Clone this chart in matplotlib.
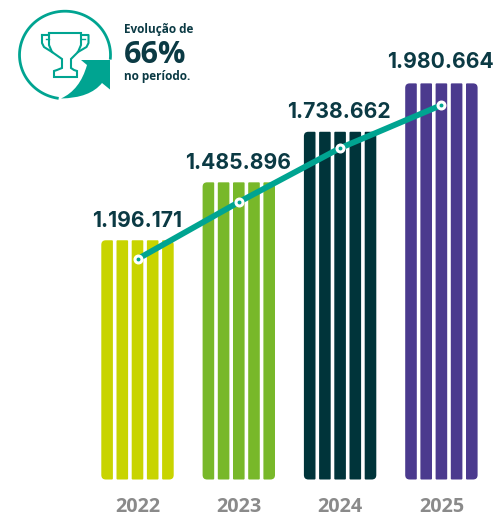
import matplotlib
matplotlib.use('Agg')
import matplotlib.pyplot as plt
import numpy as np
from matplotlib.path import Path
from matplotlib.patches import PathPatch

years = ['2022', '2023', '2024', '2025']
values = [1196171, 1485896, 1738662, 1980664]
value_labels = ['1.196.171', '1.485.896', '1.738.662', '1.980.664']
line_levels = [1102000, 1387000, 1657000, 1872000]
colors = ['#C8D400', '#78B82A', '#00343A', '#4B3A8E']
TEAL = '#00A491'
DARK = '#0B3A44'
GREY = '#8A8A8A'
FONT = 'Open Sans'
NUMFONT = 'Inter'

W, H = 493, 517
PX = 2.0e-4          # pixels per value unit
X0, DX = 137.5, 101.3
Y0 = 479.5

fig = plt.figure(figsize=(W / 100, H / 100), dpi=100)
ax = fig.add_axes([0, 0, 1, 1])
ax.set_xlim((0 - X0) / DX, (W - X0) / DX)
ax.set_ylim(-(H - Y0) / PX, Y0 / PX)
ax.axis('off')

sx = 1 / DX
sy = 1 / PX


def stripe(xc, w, top, r):
    """Stripe from 0 to top; r = (tl, tr, br, bl) corner radii in pixels."""
    l, rr = xc - w / 2, xc + w / 2
    tl, tr, br, bl = r
    v = [(l + tl * sx, top), (rr - tr * sx, top), (rr, top), (rr, top - tr * sy),
         (rr, br * sy), (rr, 0), (rr - br * sx, 0), (l + bl * sx, 0), (l, 0),
         (l, bl * sy), (l, top - tl * sy), (l, top), (l + tl * sx, top), (l + tl * sx, top)]
    c = [Path.MOVETO, Path.LINETO, Path.CURVE3, Path.CURVE3, Path.LINETO, Path.CURVE3,
         Path.CURVE3, Path.LINETO, Path.CURVE3, Path.CURVE3, Path.LINETO, Path.CURVE3,
         Path.CURVE3, Path.CLOSEPOLY]
    return Path(v, c)


for i, (val, col) in enumerate(zip(values, colors)):
    for k in range(5):
        xc = i + (k - 2) * 15.2 * sx
        outer = 4.5
        inner = 1.0
        r = (inner, inner, inner, inner)
        if k == 0:
            r = (outer, inner, inner, outer)
        if k == 4:
            r = (inner, outer, outer, inner)
        ax.add_patch(PathPatch(stripe(xc, 11.6 * sx, val, r), fc=col, ec='none', zorder=2))

xs = np.arange(len(years))
ax.plot(xs, line_levels, color=TEAL, lw=4.2, solid_capstyle='round', zorder=3)
ax.plot(xs, line_levels, ls='none', marker='o', ms=6.2, mfc='white', mec='white', zorder=4)
ax.plot(xs, line_levels, ls='none', marker='o', ms=1.8, mfc=TEAL, mec=TEAL, zorder=5)

label_y = [219, 161, 110, 60]      # pixel row of label centres
label_dx = [0.0, -0.01, -0.015, -0.005]
for i, lab in enumerate(value_labels):
    ax.text(i + label_dx[i], (Y0 - label_y[i]) * sy, lab, ha='center', va='center_baseline',
            fontsize=15.2, fontweight='bold', color=DARK, family=NUMFONT, zorder=6)
for i, y in enumerate(years):
    ax.text(i, -(504 - Y0) * sy, y, ha='center', va='center_baseline', fontsize=14.2,
            fontweight='bold', color=GREY, family=FONT)

# Icon, drawn in pixel coordinates on an overlay
ic = fig.add_axes([0, 0, 1, 1])
ic.set_xlim(0, W)
ic.set_ylim(H, 0)
ic.axis('off')
ic.patch.set_alpha(0)

theta = np.radians(np.linspace(-6, 262, 160))
ic.plot(65 + 45.5 * np.cos(theta), 55 - 43.8 * np.sin(theta), color=TEAL, lw=2.0,
        solid_capstyle='butt')

arrow_v = [(61, 98.5), (80, 90), (87, 65), (81, 60), (110, 60), (110, 89.5),
           (102, 83), (90, 98), (61, 98.5), (61, 98.5)]
arrow_c = [Path.MOVETO, Path.CURVE3, Path.CURVE3, Path.LINETO, Path.LINETO, Path.LINETO,
           Path.LINETO, Path.CURVE3, Path.CURVE3, Path.CLOSEPOLY]
ic.add_patch(PathPatch(Path(arrow_v, arrow_c), fc=TEAL, ec='none'))

# Trophy outline
cup_x = [49, 81, 81, 78, 71, 71, 74, 77, 77, 54, 54, 57, 62, 62, 52, 49, 49]
cup_y = [33, 33, 45, 52, 59, 68, 70, 71, 77, 77, 71, 70, 68, 59, 52, 45, 33]
ic.plot(cup_x, cup_y, color=TEAL, lw=1.5, solid_joinstyle='miter')
ic.plot([42, 49], [35, 35], color=TEAL, lw=1.5)
ic.plot([42, 42, 44, 52], [35, 43, 47, 52], color=TEAL, lw=1.5)
ic.plot([45.5, 49], [39, 39], color=TEAL, lw=1.0)
ic.plot([81, 88.5, 88.5, 86.5, 78], [35, 35, 43, 47, 52], color=TEAL, lw=1.5)
ic.plot([81, 85], [39, 39], color=TEAL, lw=1.0)

ic.text(124, 29, 'Evolução de', fontsize=8.5, fontweight='bold', color=DARK, family=FONT,
        ha='left', va='center')
ic.text(123.5, 55, '66%', fontsize=22, fontweight='bold', color=DARK, family=FONT,
        ha='left', va='center')
ic.text(124, 76.5, 'no período.', fontsize=8.5, fontweight='bold', color=DARK, family=FONT,
        ha='left', va='center')

fig.savefig('out.png', dpi=100, facecolor='white')
